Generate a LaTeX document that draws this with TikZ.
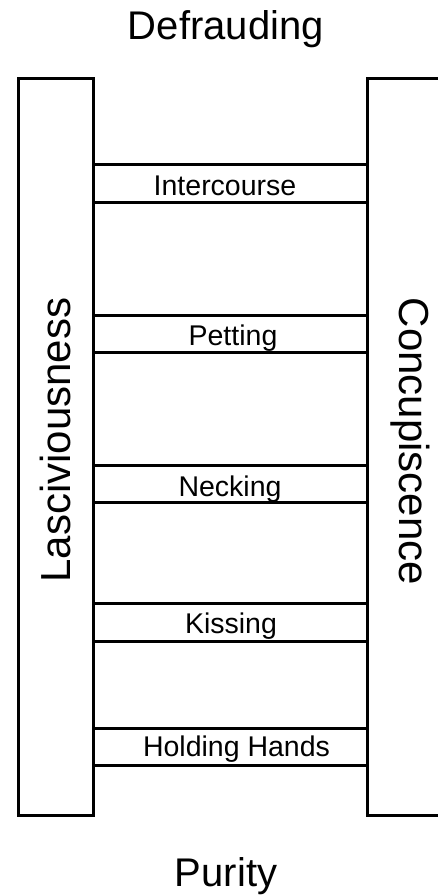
\documentclass[tikz,border=0pt]{standalone}
\usepackage{fontspec}
\setmainfont{Liberation Sans}
\begin{document}
\begin{tikzpicture}[x=1pt,y=-1pt,
  rail/.style={draw, line width=3pt, inner sep=0pt, outer sep=0pt, minimum height=737pt},
  rung/.style={draw, fill=white, line width=3pt, minimum width=274.5pt, minimum height=37.5pt, inner sep=0pt, outer sep=0pt},
  biglbl/.style={font=\fontsize{40}{48}\selectfont, inner sep=0pt},
  sidelbl/.style={font=\fontsize{42}{50}\selectfont, inner sep=0pt},
  runglbl/.style={font=\fontsize{28.5}{34}\selectfont, inner sep=0pt, anchor=base}]
\useasboundingbox (0,0) rectangle (438,896);
\clip (0,0) rectangle (438,896);
% rails
\node[rail, minimum width=74.5pt] (lrail) at (55.95,447.2) {};
\node[rail, minimum width=92.3pt] (rrail) at (413.85,447.2) {};
% rungs
\node[rung] (r1) at (230.45,183.7) {};
\node[rung] (r2) at (230.45,333.8) {};
\node[rung] (r3) at (230.45,483.8) {};
\node[rung] (r4) at (230.45,622.5) {};
\node[rung] (r5) at (230.45,747.2) {};
\node[runglbl] (t1) at (225,195) {Intercourse};
\node[runglbl] (t2) at (233,345) {Petting};
\node[runglbl] (t3) at (230,496.5) {Necking};
\node[runglbl] (t4) at (231,633.3) {Kissing};
\node[runglbl] (t5) at (236.5,756.7) {Holding Hands};
% titles
\node[biglbl, anchor=base] (top) at (225.8,39.3) {Defrauding};
\node[biglbl, anchor=base] (bottom) at (226,886.7) {Purity};
\node[sidelbl, rotate=90] (lasc) at (55,440) {Lasciviousness};
\node[sidelbl, rotate=-90] (conc) at (410,441.5) {Concupiscence};
\end{tikzpicture}
\end{document}
